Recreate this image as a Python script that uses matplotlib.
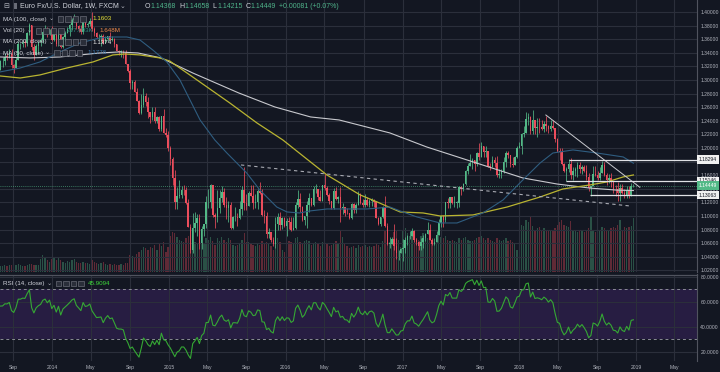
import numpy as np
import pandas as pd
import matplotlib
matplotlib.use("Agg")
import matplotlib.pyplot as plt
from matplotlib.patches import Rectangle
from matplotlib.transforms import blended_transform_factory

plt.rcParams['font.family'] = ['Liberation Sans', 'DejaVu Sans']

# ---------------- data (EUR/USD weekly, FXCM) ----------------
# closes before the visible range (only used to warm up the RSI)
pre_close = [1.3020, 1.3000, 1.3075, 1.2985, 1.2820, 1.2995, 1.3110, 1.3050, 1.3030, 1.3115,
             1.2990, 1.2835, 1.2930, 1.2995, 1.3220, 1.3345, 1.3120, 1.3010, 1.2830, 1.3065, 1.3140]

close_2013 = [1.3277, 1.3280, 1.3342, 1.3340, 1.3380, 1.3220, 1.3180, 1.3295, 1.3525, 1.3525, 1.3555, 1.3550,
              1.3685, 1.3805, 1.3485, 1.3365, 1.3495, 1.3555, 1.3590, 1.3705, 1.3740, 1.3675, 1.3745, 1.3590]
high_2013 = [1.3300, 1.3345, 1.3400, 1.3395, 1.3450, 1.3450, 1.3235, 1.3340, 1.3570, 1.3545, 1.3590, 1.3590,
             1.3705, 1.3832, 1.3810, 1.3530, 1.3530, 1.3570, 1.3620, 1.3720, 1.3810, 1.3785, 1.3755, 1.3790]
low_2013 = [1.3140, 1.3185, 1.3225, 1.3290, 1.3320, 1.3175, 1.3105, 1.3175, 1.3305, 1.3460, 1.3490, 1.3480,
            1.3505, 1.3655, 1.3445, 1.3295, 1.3400, 1.3400, 1.3500, 1.3550, 1.3680, 1.3625, 1.3655, 1.3570]

close_2014 = [1.3670, 1.3535, 1.3675, 1.3485, 1.3635, 1.3690, 1.3745, 1.3805, 1.3875, 1.3910, 1.3795, 1.3750,
              1.3700, 1.3885, 1.3815, 1.3830, 1.3870, 1.3755, 1.3695, 1.3630, 1.3635, 1.3640, 1.3540, 1.3605,
              1.3645, 1.3595, 1.3605, 1.3525, 1.3430, 1.3415, 1.3415, 1.3400, 1.3240, 1.3130, 1.2950, 1.2965,
              1.2830, 1.2685, 1.2520, 1.2625, 1.2760, 1.2670, 1.2525, 1.2450, 1.2525, 1.2390, 1.2450, 1.2285,
              1.2465, 1.2225, 1.2190, 1.2000]
high_2014 = [1.3700, 1.3680, 1.3740, 1.3740, 1.3640, 1.3715, 1.3775, 1.3825, 1.3915, 1.3967, 1.3915, 1.3815,
             1.3810, 1.3905, 1.3870, 1.3855, 1.3905, 1.3995, 1.3780, 1.3700, 1.3670, 1.3670, 1.3675, 1.3645,
             1.3650, 1.3700, 1.3640, 1.3620, 1.3525, 1.3445, 1.3445, 1.3435, 1.3435, 1.3220, 1.3160, 1.3000,
             1.2995, 1.2885, 1.2705, 1.2790, 1.2885, 1.2815, 1.2745, 1.2535, 1.2600, 1.2600, 1.2475, 1.2470,
             1.2475, 1.2570, 1.2300, 1.2250]
low_2014 = [1.3575, 1.3505, 1.3505, 1.3475, 1.3475, 1.3575, 1.3685, 1.3640, 1.3735, 1.3855, 1.3750, 1.3705,
            1.3675, 1.3670, 1.3785, 1.3780, 1.3800, 1.3725, 1.3650, 1.3615, 1.3585, 1.3500, 1.3530, 1.3545,
            1.3570, 1.3590, 1.3570, 1.3490, 1.3420, 1.3365, 1.3335, 1.3325, 1.3235, 1.3115, 1.2860, 1.2860,
            1.2820, 1.2685, 1.2500, 1.2500, 1.2605, 1.2615, 1.2440, 1.2360, 1.2410, 1.2360, 1.2360, 1.2245,
            1.2245, 1.2220, 1.2165, 1.1950]

close_2015 = [1.1840, 1.1565, 1.1205, 1.1290, 1.1315, 1.1385, 1.1380, 1.1195, 1.0845, 1.0495, 1.0820, 1.0890,
              1.0970, 1.0600, 1.0810, 1.0875, 1.1200, 1.1200, 1.1450, 1.1015, 1.0985, 1.1110, 1.1265, 1.1350,
              1.1165, 1.1110, 1.1160, 1.0830, 1.0985, 1.0985, 1.0970, 1.1105, 1.1385, 1.1185, 1.1150, 1.1340,
              1.1300, 1.1195, 1.1210, 1.1360, 1.1345, 1.1015, 1.1005, 1.0740, 1.0770, 1.0645, 1.0590, 1.0885,
              1.0990, 1.0865, 1.0970, 1.0855]
high_2015 = [1.2035, 1.1870, 1.1680, 1.1425, 1.1535, 1.1445, 1.1450, 1.1430, 1.1245, 1.0880, 1.1045, 1.1055,
             1.1035, 1.1035, 1.0850, 1.0850, 1.1290, 1.1390, 1.1465, 1.1445, 1.1040, 1.1385, 1.1385, 1.1435,
             1.1410, 1.1280, 1.1215, 1.1200, 1.1005, 1.1130, 1.1045, 1.1215, 1.1440, 1.1715, 1.1330, 1.1360,
             1.1460, 1.1460, 1.1330, 1.1390, 1.1495, 1.1390, 1.1095, 1.1055, 1.0830, 1.0770, 1.0690, 1.0985,
             1.1045, 1.1055, 1.0990, 1.0990]
low_2015 = [1.1755, 1.1460, 1.1100, 1.1100, 1.1260, 1.1270, 1.1315, 1.1175, 1.0840, 1.0460, 1.0460, 1.0770,
            1.0710, 1.0520, 1.0520, 1.0710, 1.0820, 1.1110, 1.1110, 1.0990, 1.0820, 1.0910, 1.1050, 1.1200,
            1.1130, 1.0950, 1.0915, 1.0810, 1.0810, 1.0925, 1.0855, 1.0960, 1.1015, 1.1085, 1.1085, 1.1185,
            1.1290, 1.1105, 1.1110, 1.1100, 1.1320, 1.1000, 1.0890, 1.0675, 1.0675, 1.0615, 1.0565, 1.0525,
            1.0800, 1.0800, 1.0810, 1.0845]

close_2016 = [1.0925, 1.0915, 1.0795, 1.0830, 1.1155, 1.1255, 1.1130, 1.0935, 1.1000, 1.1155, 1.1270, 1.1165,
              1.1390, 1.1395, 1.1285, 1.1225, 1.1455, 1.1405, 1.1310, 1.1220, 1.1115, 1.1365, 1.1250, 1.1280,
              1.1115, 1.1135, 1.1050, 1.1040, 1.0975, 1.1175, 1.1085, 1.1165, 1.1325, 1.1195, 1.1155, 1.1235,
              1.1155, 1.1225, 1.1240, 1.1200, 1.0975, 1.0880, 1.0985, 1.1135, 1.0850, 1.0590, 1.0590, 1.0665,
              1.0560, 1.0450, 1.0455, 1.0520]
high_2016 = [1.0970, 1.0990, 1.0985, 1.0990, 1.1200, 1.1375, 1.1340, 1.1150, 1.1005, 1.1220, 1.1340, 1.1245,
             1.1440, 1.1465, 1.1400, 1.1375, 1.1460, 1.1615, 1.1445, 1.1335, 1.1215, 1.1415, 1.1420, 1.1300,
             1.1425, 1.1190, 1.1120, 1.1120, 1.1050, 1.1185, 1.1195, 1.1185, 1.1365, 1.1345, 1.1245, 1.1330,
             1.1285, 1.1245, 1.1265, 1.1255, 1.1215, 1.0985, 1.0985, 1.1145, 1.1300, 1.0895, 1.0685, 1.0690,
             1.0875, 1.0670, 1.0500, 1.0525]
low_2016 = [1.0710, 1.0815, 1.0780, 1.0810, 1.0810, 1.1110, 1.1065, 1.0920, 1.0860, 1.0820, 1.1055, 1.1145,
            1.1140, 1.1335, 1.1235, 1.1215, 1.1215, 1.1380, 1.1295, 1.1170, 1.1100, 1.1100, 1.1230, 1.1185,
            1.0910, 1.1030, 1.1000, 1.1025, 1.0950, 1.0950, 1.1045, 1.1045, 1.1165, 1.1180, 1.1125, 1.1135,
            1.1150, 1.1130, 1.1150, 1.1125, 1.1055, 1.0865, 1.0855, 1.0975, 1.0845, 1.0570, 1.0530, 1.0590,
            1.0505, 1.0365, 1.0355, 1.0455]

close_2017 = [1.0530, 1.0645, 1.0700, 1.0700, 1.0785, 1.0640, 1.0615, 1.0565, 1.0620, 1.0670, 1.0735, 1.0800,
              1.0650, 1.0595, 1.0615, 1.0725, 1.0895, 1.0995, 1.0935, 1.1205, 1.1185, 1.1280, 1.1195, 1.1195,
              1.1195, 1.1425, 1.1400, 1.1470, 1.1665, 1.1740, 1.1775, 1.1820, 1.1760, 1.1925, 1.1860, 1.2035,
              1.1945, 1.1950, 1.1730, 1.1725, 1.1820, 1.1780, 1.1605, 1.1610, 1.1665, 1.1790, 1.1930, 1.1895,
              1.1770, 1.1750, 1.1860, 1.2005]
high_2017 = [1.0655, 1.0685, 1.0720, 1.0775, 1.0830, 1.0800, 1.0680, 1.0630, 1.0680, 1.0715, 1.0745, 1.0905,
             1.0875, 1.0680, 1.0680, 1.0780, 1.0950, 1.1000, 1.1020, 1.1210, 1.1270, 1.1285, 1.1285, 1.1295,
             1.1215, 1.1445, 1.1445, 1.1490, 1.1680, 1.1775, 1.1910, 1.1850, 1.1780, 1.1940, 1.2070, 1.2090,
             1.2010, 1.2035, 1.1960, 1.1775, 1.1880, 1.1860, 1.1880, 1.1690, 1.1690, 1.1860, 1.1960, 1.1960,
             1.1860, 1.1865, 1.1880, 1.2025]
low_2017 = [1.0340, 1.0455, 1.0580, 1.0660, 1.0705, 1.0620, 1.0570, 1.0495, 1.0495, 1.0525, 1.0625, 1.0740,
            1.0655, 1.0570, 1.0570, 1.0640, 1.0820, 1.0840, 1.0840, 1.0915, 1.1110, 1.1110, 1.1170, 1.1130,
            1.1120, 1.1130, 1.1310, 1.1370, 1.1460, 1.1610, 1.1730, 1.1690, 1.1660, 1.1730, 1.1825, 1.1860,
            1.1870, 1.1860, 1.1715, 1.1670, 1.1720, 1.1720, 1.1575, 1.1555, 1.1555, 1.1630, 1.1715, 1.1850,
            1.1715, 1.1720, 1.1795, 1.1850]

close_2018 = [1.2030, 1.2200, 1.2220, 1.2425, 1.2455, 1.2250, 1.2405, 1.2295, 1.2315, 1.2305, 1.2285, 1.2350,
              1.2325, 1.2280, 1.2330, 1.2290, 1.2130, 1.1960, 1.1940, 1.1770, 1.1655, 1.1690, 1.1770, 1.1605,
              1.1655, 1.1685, 1.1745, 1.1685, 1.1720, 1.1655, 1.1570, 1.1410, 1.1440, 1.1620, 1.1600, 1.1555,
              1.1625, 1.1745, 1.1605, 1.1525, 1.1560, 1.1510, 1.1400, 1.1390, 1.1335, 1.1415, 1.1340, 1.1315,
              1.1380, 1.1305, 1.1437, 1.1445]
high_2018 = [1.2090, 1.2215, 1.2325, 1.2535, 1.2520, 1.2470, 1.2555, 1.2355, 1.2445, 1.2445, 1.2410, 1.2390,
             1.2475, 1.2345, 1.2415, 1.2415, 1.2290, 1.2150, 1.2000, 1.1995, 1.1775, 1.1725, 1.1840, 1.1850,
             1.1720, 1.1720, 1.1790, 1.1790, 1.1745, 1.1750, 1.1750, 1.1630, 1.1445, 1.1735, 1.1735, 1.1660,
             1.1720, 1.1815, 1.1790, 1.1625, 1.1620, 1.1625, 1.1500, 1.1450, 1.1500, 1.1470, 1.1470, 1.1400,
             1.1445, 1.1445, 1.1485, 1.1466]
low_2018 = [1.2000, 1.1915, 1.2165, 1.2215, 1.2335, 1.2205, 1.2205, 1.2205, 1.2155, 1.2215, 1.2260, 1.2240,
            1.2255, 1.2215, 1.2245, 1.2285, 1.2095, 1.1940, 1.1825, 1.1745, 1.1640, 1.1510, 1.1640, 1.1540,
            1.1525, 1.1590, 1.1575, 1.1630, 1.1610, 1.1650, 1.1530, 1.1360, 1.1300, 1.1435, 1.1585, 1.1525,
            1.1530, 1.1650, 1.1590, 1.1460, 1.1480, 1.1430, 1.1335, 1.1300, 1.1215, 1.1215, 1.1330, 1.1265,
            1.1270, 1.1270, 1.1300, 1.1422]

# tick volume, thousands
vol_2013 = [260, 250, 280, 240, 270, 300, 310, 280, 330, 290, 260, 250, 300, 340, 330, 290, 280, 300, 520, 700,
            560, 480, 420, 520]
vol_2014 = [600, 480, 560, 500, 420, 380, 450, 400, 480, 520, 400, 380, 360, 420, 380, 350, 330, 480, 400, 380,
            330, 360, 420, 330, 300, 320, 300, 330, 280, 300, 320, 300, 360, 380, 700, 650, 600, 720, 800, 900,
            1000, 950, 880, 1000, 950, 1100, 900, 1150, 1050, 1200, 800, 1000]
vol_2015 = [1450, 1600, 1550, 1400, 1300, 1250, 1200, 1350, 1450, 1400, 1350, 1200, 1150, 1300, 1250, 1150, 1350,
            1300, 1400, 1250, 1100, 1350, 1250, 1400, 1300, 1200, 1350, 1300, 1100, 1050, 1100, 1150, 1300, 1550,
            1200, 1200, 1150, 1100, 1050, 1150, 1100, 1250, 1150, 1200, 1150, 1050, 900, 1300, 1350, 1200, 900, 800]
vol_2016 = [1300, 1250, 1200, 1150, 1350, 1400, 1200, 1150, 1250, 1300, 1250, 1100, 1150, 1200, 1150, 1050, 1200,
            1250, 1150, 1050, 1100, 1150, 1250, 1150, 1700, 1400, 1150, 1050, 950, 1000, 1050, 950, 1100, 1000,
            1050, 1100, 1000, 1050, 1000, 1050, 1150, 1100, 1000, 1250, 1650, 1500, 1200, 1300, 1600, 1700, 1300, 1000]
vol_2017 = [1650, 1750, 1550, 1450, 1600, 1400, 1350, 1300, 1450, 1550, 1450, 1350, 1300, 1250, 1150, 1350, 1600,
            1400, 1350, 1450, 1300, 1250, 1300, 1250, 1200, 1350, 1300, 1350, 1400, 1300, 1250, 1250, 1300, 1350,
            1400, 1450, 1350, 1300, 1350, 1300, 1250, 1200, 1350, 1300, 1250, 1300, 1350, 1250, 1300, 1200, 1150, 900]
vol_2018 = [1600, 1900, 1850, 2100, 2000, 2200, 1850, 1700, 1750, 1800, 1700, 1750, 1700, 1650, 1700, 1650, 1750,
            1900, 2000, 2100, 1900, 1850, 1800, 2050, 1700, 1650, 1600, 1650, 1700, 1600, 1650, 1750, 2200, 1650,
            1600, 1650, 1700, 1800, 1750, 1700, 1650, 1750, 1800, 1750, 1900, 2100, 1700, 1800, 1750, 1800, 1850, 2150]

# moving averages (date, value)
ma50_dates = ['2013-07-21', '2013-09-22', '2013-11-23', '2014-01-24', '2014-03-28', '2014-05-29', '2014-07-09',
              '2014-08-22', '2014-10-02', '2014-11-11', '2014-12-25', '2015-02-04', '2015-04-08', '2015-05-24',
              '2015-07-01', '2015-09-01', '2015-10-12', '2015-12-04', '2016-01-05', '2016-02-14', '2016-03-17',
              '2016-05-09', '2016-07-11', '2016-09-11', '2016-10-22', '2016-11-22', '2016-12-24', '2017-02-15',
              '2017-04-28', '2017-06-20', '2017-09-09', '2017-11-11', '2018-01-12', '2018-03-07', '2018-04-16',
              '2018-06-18', '2018-09-01', '2018-11-22', '2018-12-24']
ma50_vals = [1.3118, 1.3176, 1.3265, 1.3412, 1.3544, 1.3618, 1.3632, 1.3632, 1.3588, 1.3441, 1.3265, 1.3000,
             1.2412, 1.2118, 1.1926, 1.1632, 1.1382, 1.1132, 1.1059, 1.1044, 1.1074, 1.1103, 1.1103, 1.1103,
             1.1118, 1.1132, 1.1074, 1.0985, 1.0897, 1.0897, 1.1044, 1.1235, 1.1529, 1.1779, 1.1926, 1.1971,
             1.1926, 1.1868, 1.1776]

ma100_dates = ['2013-07-21', '2013-09-22', '2013-11-23', '2014-02-15', '2014-05-08', '2014-07-09', '2014-08-16',
               '2014-10-02', '2014-12-03', '2015-01-03', '2015-03-16', '2015-07-10', '2015-10-03', '2015-12-23',
               '2016-03-01', '2016-05-09', '2016-08-21', '2016-10-13', '2016-12-24', '2017-03-06', '2017-04-28',
               '2017-08-09', '2017-11-24', '2018-03-07', '2018-05-17', '2018-08-10', '2018-10-02', '2018-11-22',
               '2018-12-24']
ma100_vals = [1.3059, 1.3029, 1.3074, 1.3176, 1.3265, 1.3368, 1.3382, 1.3368, 1.3324, 1.3279, 1.3044, 1.2662,
              1.2368, 1.2118, 1.1860, 1.1603, 1.1309, 1.1206, 1.1059, 1.1044, 1.1000, 1.1015, 1.1132, 1.1279,
              1.1397, 1.1456, 1.1500, 1.1574, 1.1603]

ma200_dates = ['2013-07-21', '2013-10-23', '2014-01-24', '2014-05-29', '2014-07-28', '2014-09-26', '2014-12-07',
               '2015-03-16', '2015-08-07', '2015-11-28', '2016-03-19', '2016-06-16', '2016-11-22', '2017-03-17',
               '2017-08-10', '2018-01-12', '2018-04-29', '2018-08-10', '2018-11-03', '2018-12-24']
ma200_vals = [1.3338, 1.3324, 1.3338, 1.3397, 1.3412, 1.3397, 1.3324, 1.3103, 1.2809, 1.2603, 1.2456, 1.2412,
              1.2221, 1.2015, 1.1794, 1.1559, 1.1470, 1.1410, 1.1380, 1.1374]

# user drawings
dash_line_dates = ['2015-08-14', '2018-12-13']
dash_line_vals = [1.1750, 1.1147]
trend_dates = ['2018-03-25', '2019-01-13']
trend_vals = [1.2485, 1.1422]
level_vals = [1.18294, 1.15146, 1.13063]
level_start = ['2018-06-04', '2018-05-27', '2018-08-10']
last_price = 1.14449

# ---------------- assemble ----------------
closes = np.array(close_2013 + close_2014 + close_2015 + close_2016 + close_2017 + close_2018)
highs = np.array(high_2013 + high_2014 + high_2015 + high_2016 + high_2017 + high_2018)
lows = np.array(low_2013 + low_2014 + low_2015 + low_2016 + low_2017 + low_2018)
vols = np.array(vol_2013 + vol_2014 + vol_2015 + vol_2016 + vol_2017 + vol_2018)
N = len(closes)
assert len(highs) == N and len(lows) == N and len(vols) == N, (N, len(highs), len(lows), len(vols))
opens = np.concatenate([[pre_close[-1]], closes[:-1]])
highs = np.maximum(highs, np.maximum(opens, closes))
lows = np.minimum(lows, np.minimum(opens, closes))
dates = pd.date_range('2013-07-22', periods=N, freq='7D')

# RSI (14) Wilder
allc = np.array(pre_close + list(closes))
d = np.diff(allc)
up = np.clip(d, 0, None)
dn = np.clip(-d, 0, None)
n = 14
rsi_all = np.full(len(allc), np.nan)
au, ad = up[:n].mean(), dn[:n].mean()
rsi_all[n] = 100 - 100 / (1 + au / ad)
for k in range(n, len(d)):
    au = (au * (n - 1) + up[k]) / n
    ad = (ad * (n - 1) + dn[k]) / n
    rsi_all[k + 1] = 100 - 100 / (1 + au / ad)
rsi = rsi_all[len(pre_close):]

# ---------------- styling ----------------
BG = '#131722'
UP = '#53b987'
DN = '#eb4d5c'
GRID = '#2b2f3b'
AXC = '#50535e'
TXT = '#b2b5be'
W, H = 720, 372

fig = plt.figure(figsize=(7.2, 3.72), dpi=100, facecolor=BG)
ax = fig.add_axes([0, 1 - 272 / H, 697 / W, 272 / H])
axr = fig.add_axes([0, 1 - 361 / H, 697 / W, (361 - 274.5) / H])
axv = ax.twinx()

x0 = pd.Timestamp('2013-07-21')
x1 = pd.Timestamp('2019-07-11')

up_mask = closes >= opens
cols = np.where(up_mask, UP, DN)

# volume (behind)
axv.bar(dates, vols, width=4.0, color=cols, alpha=0.36, linewidth=0)
axv.set_ylim(0, 272 * 40)
axv.set_yticks([])
axv.set_zorder(0)
ax.set_zorder(1)
ax.patch.set_visible(False)
for s in axv.spines.values():
    s.set_visible(False)

# grid
months = pd.date_range('2013-09-01', '2019-05-31', freq='4MS')
mlabels = [str(m.year) if m.month == 1 else m.strftime('%b') for m in months]
for a in (ax, axr):
    a.set_facecolor('none')
    a.set_xlim(x0, x1)
    a.set_xticks(months)
    a.grid(True, color=GRID, lw=0.8)
    a.set_axisbelow(True)
    for s in a.spines.values():
        s.set_visible(False)
    a.spines['right'].set_visible(True)
    a.spines['right'].set_color(AXC)
    a.spines['right'].set_linewidth(0.8)
    a.yaxis.tick_right()
    a.tick_params(axis='y', length=0, pad=2.4, labelsize=3.6, colors=TXT)

# candles
body_bot = np.minimum(opens, closes)
body_h = np.maximum(np.abs(closes - opens), 0.0006)
ax.vlines(dates, lows, highs, colors=cols, lw=0.55, zorder=3)
ax.bar(dates, body_h, bottom=body_bot, width=4.6, color=cols, linewidth=0, zorder=3)

# moving averages
ax.plot(pd.to_datetime(ma200_dates), ma200_vals, color='#c8c9ce', lw=0.8, zorder=4)
ax.plot(pd.to_datetime(ma100_dates), ma100_vals, color='#b9b431', lw=0.9, zorder=4)
ax.plot(pd.to_datetime(ma50_dates), ma50_vals, color='#2f5d80', lw=0.8, zorder=4)

# drawings
ax.plot(pd.to_datetime(dash_line_dates), dash_line_vals, color='#a9abb3', lw=0.8, ls=(0, (3, 3)), zorder=4)
ax.plot(pd.to_datetime(trend_dates), trend_vals, color='#c9cacf', lw=0.7, zorder=4)
for v, s in zip(level_vals, level_start):
    ax.hlines(v, pd.Timestamp(s), x1, color='#e0e1e5', lw=0.9, zorder=4)
ax.axhline(last_price, color=UP, lw=0.6, ls=(0, (1, 1.5)), alpha=0.8, zorder=2)

ax.set_ylim(1.0176, 1.4176)
pt = np.round(np.arange(1.02, 1.4001, 0.02), 2)
ax.set_yticks(pt)
ax.set_yticklabels([f'{v:.5f}' for v in pt])
ax.tick_params(axis='x', labelbottom=False, length=0)

# RSI pane
axr.axhspan(30, 70, color='#271d42', zorder=0, lw=0)
axr.axhline(70, color='#8a8c95', lw=0.7, ls=(0, (3, 3)), zorder=2)
axr.axhline(30, color='#8a8c95', lw=0.7, ls=(0, (3, 3)), zorder=2)
axr.plot(dates, rsi, color='#35a834', lw=0.8, zorder=3)
axr.set_ylim(12.56, 81.76)
axr.set_yticks([20, 40, 60, 80])
axr.set_yticklabels(['20.0000', '40.0000', '60.0000', '80.0000'])
axr.set_xticklabels(mlabels)
axr.tick_params(axis='x', length=0, pad=3.2, labelsize=3.6, colors=TXT)
axr.spines['top'].set_visible(True)
axr.spines['top'].set_color(AXC)
axr.spines['top'].set_linewidth(0.9)

# right-axis price boxes
btr = blended_transform_factory(fig.transFigure, ax.transData)
for v, fc, tc in [(level_vals[0], '#f0f0f0', '#131722'), (level_vals[1], '#f0f0f0', '#131722'),
                  (last_price, UP, '#ffffff'), (level_vals[2], '#f0f0f0', '#131722')]:
    fig.text(699 / W, v, f'{v:.5f}', transform=btr, fontsize=3.6, color=tc, va='center', ha='left',
             bbox=dict(boxstyle='square,pad=0.35', fc=fc, ec='none'), zorder=10)

# ---------------- legend texts ----------------
renderer = fig.canvas.get_renderer()


def seq(xp, yp, parts, size, gap=2.0):
    x = xp
    for item in parts:
        s, c = item[0], item[1]
        g = item[2] if len(item) > 2 else gap
        t = fig.text(x / W, 1 - yp / H, s, color=c, fontsize=size, va='center', ha='left', zorder=12)
        bb = t.get_window_extent(renderer)
        x = bb.x1 + g
    return x


def icons(xp, yp, k=4):
    for i in range(k):
        r = Rectangle(((xp + i * 7.4) / W, 1 - (yp + 3) / H), 5.6 / W, 5.6 / H, transform=fig.transFigure,
                      fc='#2a2e39', ec='#7a7d88', lw=0.4, zorder=11)
        fig.add_artist(r)


WH = '#d1d4dc'
GR = '#4fb38a'
fig.text(3 / W, 1 - 6 / H, '⊟', color=TXT, fontsize=5, va='center', ha='left', family='DejaVu Sans')
fig.add_artist(Rectangle((13.5 / W, 1 - 9 / H), 3 / W, 6 / H, transform=fig.transFigure, fc='#6a6d78', ec='none'))
seq(20, 6, [('Euro Fx/U.S. Dollar, 1W, FXCM', WH, 1), ('⌄', TXT)], 5.0)
seq(145, 6, [('O', WH, 0.3), ('1.14368', GR, 3), ('H', WH, 0.3), ('1.14658', GR, 3), ('L', WH, 0.3),
             ('1.14215', GR, 3), ('C', WH, 0.3), ('1.14449', GR, 3), ('+0.00081 (+0.07%)', GR)], 5.0)

xe = seq(3, 19, [('MA (100, close)', WH), ('⌄', TXT)], 4.5)
icons(xe + 2, 19)
seq(92, 19, [('1.1603', '#e8e337')], 4.5)

xe = seq(3, 30.5, [('Vol (20)', WH), ('⌄', TXT)], 4.5)
icons(xe + 2, 30.5)
seq(67, 30.5, [('217.093K', '#2b8f80', 6), ('1.648M', '#f08a4b')], 4.5)

xe = seq(3, 42, [('MA (200, close)', WH), ('⌄', TXT)], 4.5)
icons(xe + 2, 42)
seq(92, 42, [('1.1374', '#eeeeee')], 4.5)

xe = seq(3, 53, [('MA (50, close)', WH), ('⌄', TXT)], 4.5)
icons(xe + 2, 53)
seq(87, 53, [('1.1776', '#3e7cb0')], 4.5)

xe = seq(3, 283.3, [('RSI (14, close)', WH), ('⌄', TXT)], 4.5)
icons(xe + 2, 283.3)
seq(88, 283.3, [('45.9094', '#3ed83a')], 4.5)

fig.savefig('out.png', dpi=100, facecolor=BG)
